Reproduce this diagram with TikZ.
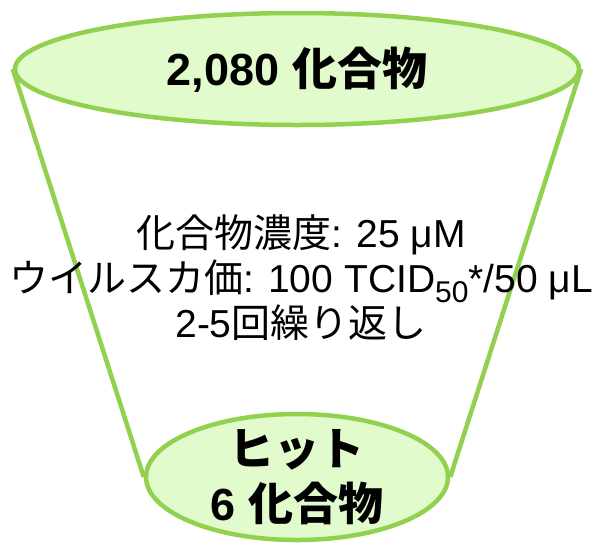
\documentclass[tikz,border=0pt]{standalone}
\usepackage{fontspec}
\setmainfont{Liberation Sans}
\newfontfamily\jp{Noto Sans CJK JP}
\usetikzlibrary{shapes.geometric,backgrounds}
\definecolor{edgeg}{RGB}{146,208,80}
\definecolor{fillg}{RGB}{226,251,205}
\begin{document}
\begin{tikzpicture}[x=1pt,y=-1pt,
  cup/.style={ellipse, draw=edgeg, fill=fillg, line width=4.5pt, inner sep=0pt},
  side/.style={draw=edgeg, line width=4.5pt},
  bigtxt/.style={anchor=base, inner sep=0pt, font=\fontsize{45}{52}\selectfont\bfseries},
  midtxt/.style={anchor=base, inner sep=0pt, font=\fontsize{39}{45}\selectfont}]
\useasboundingbox (0,0) rectangle (609,544);
\node[cup, minimum width=564pt, minimum height=112pt] (top) at (297,69) {};
\node[cup, minimum width=302pt, minimum height=126pt] (bot) at (297,477) {};
\begin{scope}[on background layer]
\draw[side] (top.west) -- (bot.west);
\draw[side] (top.east) -- (bot.east);
\end{scope}
\node[bigtxt] (toptext) at (297,85) {2,080 {\jp 化合物}};
\node[bigtxt] (hit1) at (297,465) {\jp ヒット};
\node[bigtxt] (hit2) at (297,520) {6 {\jp 化合物}};
\node[midtxt] (m1) at (301,247) {{\jp 化合物濃度}: 25 μM};
\node[midtxt] (m2) at (301,292) {{\jp ウイルスカ価}: 100 TCID\raisebox{-10pt}{\fontsize{30}{30}\selectfont 50}*/50 μL};
\node[midtxt] (m3) at (301,337) {2-5{\jp 回繰り返し}};
\end{tikzpicture}
\end{document}
